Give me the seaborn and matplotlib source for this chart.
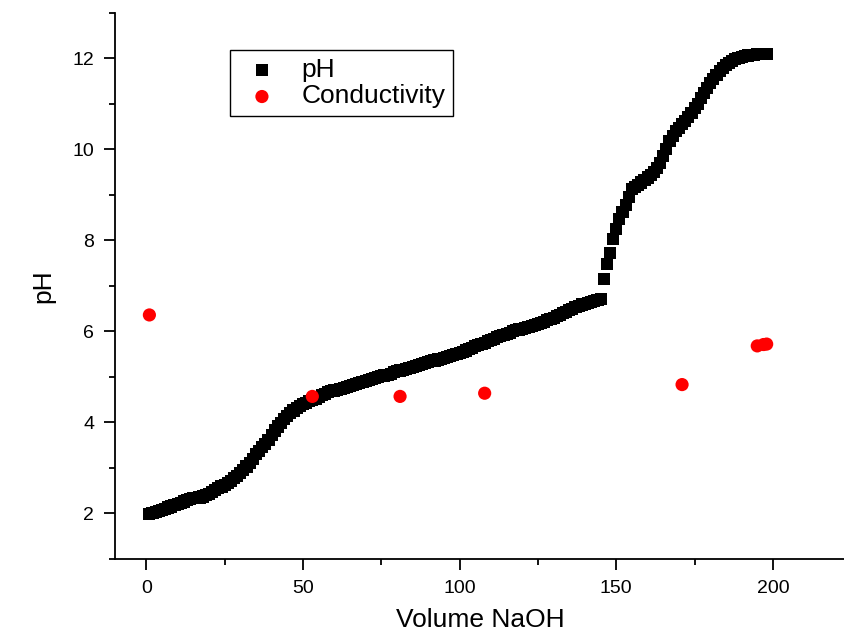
import numpy as np
import pandas as pd
import matplotlib
matplotlib.use("Agg")
import matplotlib.pyplot as plt
import seaborn as sns
from matplotlib.ticker import MultipleLocator

# pH titration curve (1 mL steps)
volume_ph = list(range(1, 199))
ph_values = [
    1.98, 2.00, 2.03, 2.05, 2.08, 2.10, 2.13, 2.15, 2.18, 2.20,
    2.23, 2.26, 2.29, 2.31, 2.33, 2.34, 2.35, 2.37, 2.40, 2.43,
    2.47, 2.51, 2.55, 2.59, 2.63, 2.67, 2.72, 2.77, 2.83, 2.89,
    2.96, 3.03, 3.11, 3.20, 3.30, 3.38, 3.45, 3.52, 3.62, 3.72,
    3.82, 3.91, 3.99, 4.07, 4.14, 4.20, 4.26, 4.31, 4.36, 4.40,
    4.43, 4.46, 4.49, 4.52, 4.56, 4.60, 4.63, 4.66, 4.68, 4.70,
    4.72, 4.74, 4.76, 4.78, 4.80, 4.82, 4.85, 4.87, 4.89, 4.91,
    4.93, 4.95, 4.97, 4.99, 5.01, 5.03, 5.05, 5.07, 5.10, 5.12,
    5.14, 5.16, 5.18, 5.20, 5.22, 5.24, 5.26, 5.28, 5.30, 5.32,
    5.34, 5.36, 5.38, 5.40, 5.42, 5.44, 5.46, 5.48, 5.50, 5.52,
    5.55, 5.58, 5.61, 5.64, 5.67, 5.70, 5.72, 5.75, 5.78, 5.81,
    5.84, 5.87, 5.90, 5.92, 5.95, 5.97, 6.00, 6.02, 6.04, 6.06,
    6.08, 6.10, 6.12, 6.14, 6.16, 6.18, 6.21, 6.24, 6.27, 6.30,
    6.33, 6.36, 6.40, 6.43, 6.47, 6.50, 6.53, 6.56, 6.59, 6.61,
    6.63, 6.65, 6.67, 6.69, 6.72, 7.15, 7.47, 7.73, 8.02, 8.24,
    8.46, 8.62, 8.78, 8.96, 9.12, 9.18, 9.22, 9.27, 9.32, 9.38,
    9.44, 9.50, 9.58, 9.70, 9.85, 10.00, 10.18, 10.30, 10.40, 10.47,
    10.55, 10.63, 10.71, 10.80, 10.90, 11.00, 11.12, 11.24, 11.35, 11.45,
    11.55, 11.64, 11.72, 11.79, 11.85, 11.90, 11.94, 11.98, 12.01, 12.03,
    12.05, 12.06, 12.07, 12.08, 12.09, 12.09, 12.10, 12.10,
]

# conductivity points (same axis as in the original)
volume_cond = [1, 53, 81, 108, 171, 195, 197, 198]
cond_values = [6.36, 4.57, 4.57, 4.64, 4.83, 5.68, 5.71, 5.72]

ph_df = pd.DataFrame({'volume': volume_ph, 'value': ph_values})
cond_df = pd.DataFrame({'volume': volume_cond, 'value': cond_values})

sns.set_style('ticks')
plt.rcParams['font.family'] = ['Liberation Sans', 'DejaVu Sans']
plt.rcParams['text.color'] = 'black'
plt.rcParams['axes.labelcolor'] = 'black'
plt.rcParams['xtick.color'] = 'black'
plt.rcParams['ytick.color'] = 'black'

fig = plt.figure(figsize=(8.45, 6.38), dpi=100)
ax = fig.add_axes([0.136, 0.124, 0.864, 0.856])

sns.scatterplot(x='volume', y='value', data=ph_df, marker='s', s=76,
                color='black', edgecolor='none', label='pH', ax=ax, zorder=2)
sns.scatterplot(x='volume', y='value', data=cond_df, marker='o', s=90,
                color='#ff0000', edgecolor='none', label='Conductivity', ax=ax, zorder=3)

ax.set_xlim(-10, 223)
ax.set_ylim(1, 13)
ax.xaxis.set_major_locator(MultipleLocator(50))
ax.xaxis.set_minor_locator(MultipleLocator(25))
ax.yaxis.set_major_locator(MultipleLocator(2))
ax.yaxis.set_minor_locator(MultipleLocator(1))

sns.despine(ax=ax)
for side in ['left', 'bottom']:
    ax.spines[side].set_linewidth(1.3)
    ax.spines[side].set_color('black')
ax.tick_params(which='major', length=8, width=1.3, labelsize=14, pad=7,
               color='black', labelcolor='black')
ax.tick_params(which='minor', length=4.5, width=1.3, color='black')

ax.set_xlabel('Volume NaOH', fontsize=19, labelpad=8, color='black')
ax.set_ylabel('pH', fontsize=19, labelpad=12, color='black')

leg = ax.legend(loc='upper left', bbox_to_anchor=(0.158, 0.932), fontsize=19,
                frameon=True, fancybox=False, edgecolor='black', framealpha=1,
                handletextpad=0.6, borderpad=0.3, labelspacing=0.1,
                handlelength=1.8, borderaxespad=0)
leg.get_frame().set_linewidth(1.0)
for t in leg.get_texts():
    t.set_color('black')

plt.savefig('out.png', dpi=100)
